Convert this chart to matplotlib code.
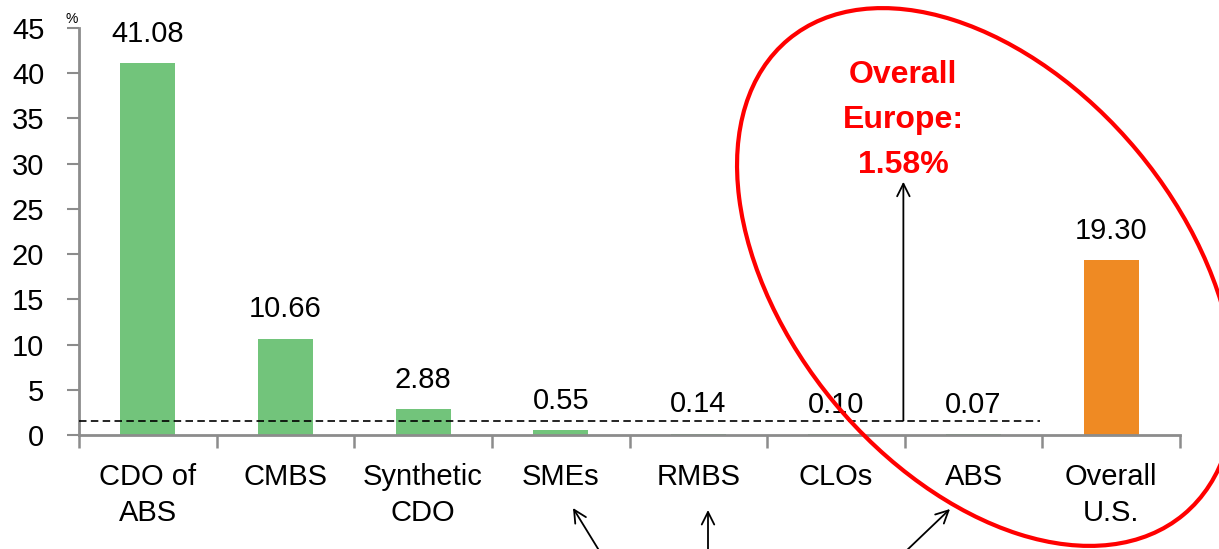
import matplotlib
matplotlib.use("Agg")
import matplotlib.pyplot as plt
from matplotlib.patches import Ellipse
from matplotlib.transforms import Affine2D, IdentityTransform
import numpy as np

plt.rcParams['font.family'] = ['Liberation Sans', 'DejaVu Sans']

categories = ["CDO of\nABS", "CMBS", "Synthetic\nCDO", "SMEs", "RMBS", "CLOs", "ABS", "Overall\nU.S."]
values = [41.08, 10.66, 2.88, 0.55, 0.14, 0.10, 0.07, 19.30]
labels = ["41.08", "10.66", "2.88", "0.55", "0.14", "0.10", "0.07", "19.30"]
europe_avg = 1.58
yticks = [0, 5, 10, 15, 20, 25, 30, 35, 40, 45]

green = "#72C47B"
orange = "#EF8A23"
colors = [green] * 7 + [orange]

W, H = 1219, 549
fig = plt.figure(figsize=(W / 100, H / 100), dpi=100)
ax = fig.add_axes([79 / W, (H - 435) / H, (1180 - 79) / W, (435 - 28) / H])

x = np.arange(len(categories))
ax.bar(x, values, width=0.4, color=colors, zorder=2)
ax.set_xlim(-0.5, len(categories) - 0.5)
ax.set_ylim(0, 45)
ax.set_yticks(yticks)
ax.set_yticklabels([str(t) for t in yticks], fontsize=21)
ax.set_xticks(x)
ax.set_xticklabels(categories, fontsize=21, linespacing=1.38)
ax.tick_params(axis='x', length=0, pad=20)
ax.set_xticks(np.arange(len(categories) + 1) - 0.5, minor=True)
ax.tick_params(axis='x', which='minor', length=9, color='#8c8c8c', width=1.8, direction='out')
ax.tick_params(axis='y', length=9, color='#8c8c8c', width=1.5, direction='out', pad=16)
for s in ['top', 'right']:
    ax.spines[s].set_visible(False)
for s in ['left', 'bottom']:
    ax.spines[s].set_color('#8c8c8c')
    ax.spines[s].set_linewidth(2)

for xi, v, lab in zip(x, values, labels):
    ax.annotate(lab, (xi, v), xytext=(0, 11), textcoords='offset points',
                ha='center', va='bottom', fontsize=21)

ax.text(-0.55, 45.2, "%", fontsize=10, ha='center', va='bottom')

# dashed Europe average line
ax.plot([-0.5, 6.48], [europe_avg, europe_avg], ls=(0, (4.5, 2.6)), color='black', lw=1.2, zorder=3)

# vertical arrow from dashed line to text
ax.annotate("", xy=(5.49, 28.0), xytext=(5.49, europe_avg),
            arrowprops=dict(arrowstyle='->,head_length=0.9,head_width=0.45', color='black', lw=1.3,
                            shrinkA=0, shrinkB=0))
ax.text(5.49, 29.0, "Overall\nEurope:\n1.58%", color='#FF0000', fontsize=23, fontweight='bold',
        ha='center', va='baseline', linespacing=1.65)

# arrows under the axis (figure pixel coordinates)
def fig_arrow(x0, y0, x1, y1):
    fig.add_artist(plt.Annotation("", xy=(x1 / W, 1 - y1 / H), xytext=(x0 / W, 1 - y0 / H),
                                  xycoords='figure fraction', textcoords='figure fraction',
                                  arrowprops=dict(arrowstyle='->,head_length=0.9,head_width=0.45',
                                                  color='black', lw=1.3, shrinkA=0, shrinkB=0)))

fig_arrow(600, 552, 573, 508)
fig_arrow(708, 552, 708, 510)
fig_arrow(905, 552, 950, 509)

# red ellipse (pixel space)
ell = Ellipse(xy=(0, 0), width=618, height=394, angle=-50.25, fill=False, edgecolor='#FF0000', lw=3)
ell.set_transform(Affine2D().translate(986, H - 277) + IdentityTransform())
fig.add_artist(ell)

fig.savefig("out.png", dpi=100)
